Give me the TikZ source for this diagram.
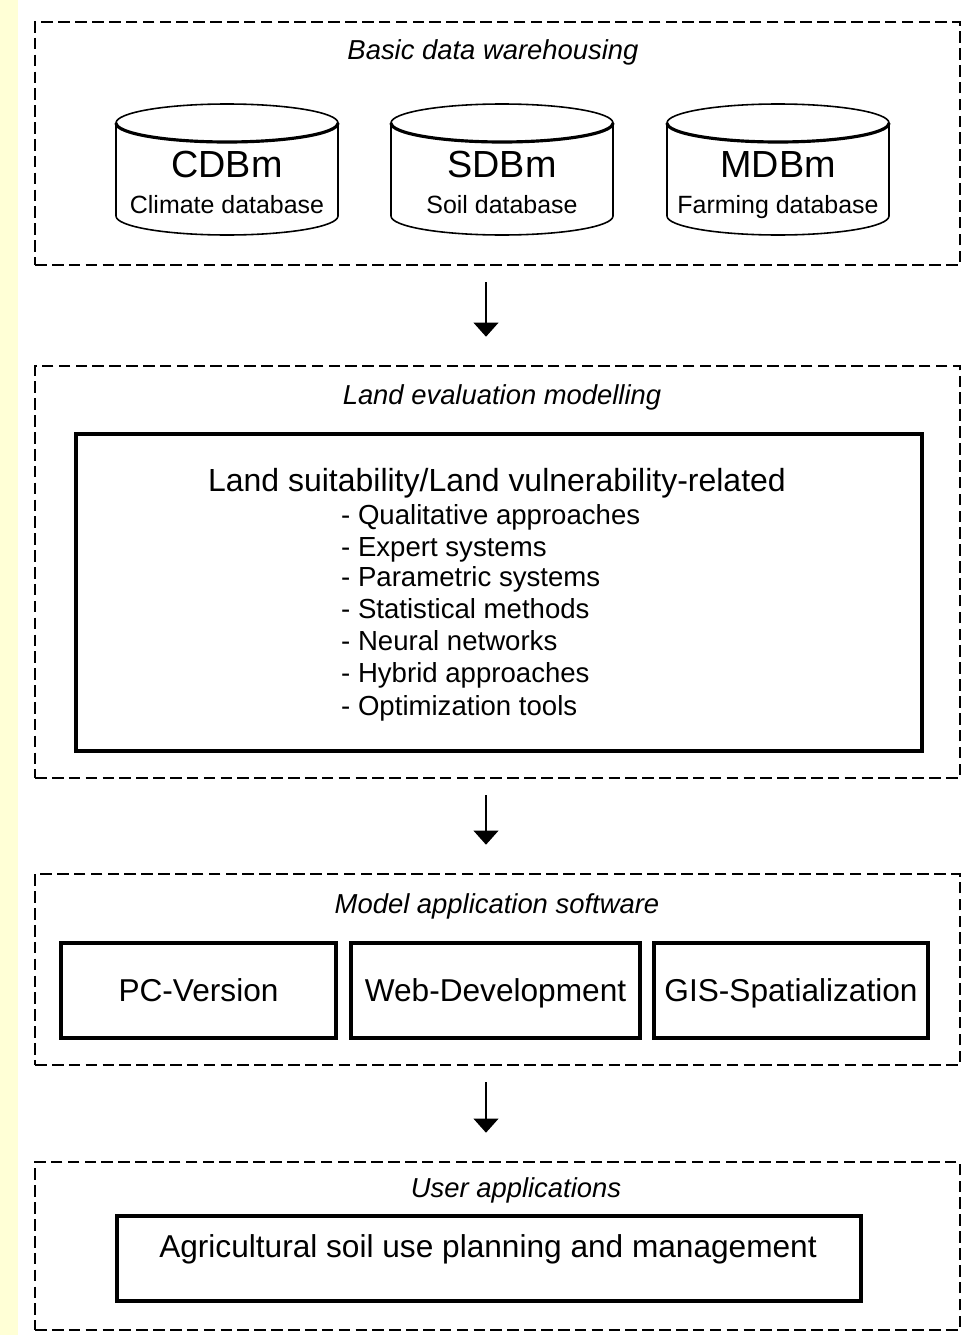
\documentclass[tikz,border=0pt]{standalone}
\usepackage{fontspec}
\setmainfont{Liberation Sans}
\usepackage{tikz}
\usetikzlibrary{arrows.meta,positioning}
\definecolor{stripyellow}{RGB}{255,255,214}

\begin{document}
\begin{tikzpicture}[x=0.02cm,y=-0.02cm,
    group/.style={draw,line width=1.5pt,dash pattern=on 6.6pt off 3pt,inner sep=0,minimum width=18.5cm},
    size/.style={font=\fontsize{#1}{#1}\selectfont,text height=\dimexpr #1pt*72/100\relax,text depth=0pt},
    title/.style={size=15.6,font=\fontsize{15.6}{18}\selectfont\itshape},
    thickbox/.style={draw,line width=2pt,inner sep=0},
    flow/.style={line width=1.2pt,-{Triangle[width=14pt,length=8pt]},shorten <=0.32cm,shorten >=0.56cm}]
        \useasboundingbox (0,0) rectangle (970,1335);
        \fill[stripyellow] (0,0) rectangle (18,1335);

        %the four stages
        \node[group,minimum height=4.86cm] (warehouse) at (497.5,143.5) {};
        \node[group,minimum height=8.24cm] (modelling) at (497.5,572) {};
        \node[group,minimum height=3.82cm] (software) at (497.5,969.5) {};
        \node[group,minimum height=3.36cm] (users) at (497.5,1246) {};
        \node[title] (warehousetitle) at (493,50) {Basic data warehousing};
        \node[title] (modellingtitle) at (502,395) {Land evaluation modelling};
        \node[title] (softwaretitle) at (497,904) {Model application software};
        \node[title] (userstitle) at (516,1188) {User applications};

        %databases
        \foreach \x/\name/\text in {227/CDBm/Climate database, 502/SDBm/Soil database, 778/MDBm/Farming database}{
        \draw[line width=0.9pt] (\x-111,123) -- (\x-111,216) arc(180:0:111 and 19) -- (\x+111,123);
        \draw[line width=0.9pt] (\x,123) ellipse (111 and 19);
        \draw[line width=1.8pt] (\x-111,123) arc(180:0:111 and 19);
        \node[size=21.5] (\name) at (\x,164) {\name};
        \node[size=14.2] (\name-label) at (\x,205) {\text};
        }

        %methods
        \node[thickbox,minimum width=16.92cm,minimum height=6.34cm] (methods) at (499,592.5) {};
        \node[size=18.2] (heading) at (497,480) {Land suitability/Land vulnerability-related};
        \foreach \y/\item [count=\i] in {515/Qualitative approaches, 547/Expert systems, 577/Parametric systems, 609/Statistical methods, 641/Neural networks, 673/Hybrid approaches, 706/Optimization tools}
        \node[size=15.7,anchor=west] (item\i) at (335,\y) {- \item};

        %software
        \foreach \x/\w/\name/\text in {198.5/5.5/pc/PC-Version, 495.5/5.78/web/Web-Development, 791/5.48/gis/GIS-Spatialization}
        \node[thickbox,size=18,minimum width=\w cm,minimum height=1.9cm] (\name) at (\x,990.5) {\text};

        %users
        \node[thickbox,minimum width=14.88cm,minimum height=1.7cm] (userbox) at (489,1258.5) {};
        \node[size=18] (usertext) at (488,1246) {Agricultural soil use planning and management};

        \coordinate (axis) at (486,0);
        \draw[flow] (warehouse.south -| axis) -- (modelling.north -| axis);
        \draw[flow] (modelling.south -| axis) -- (software.north -| axis);
        \draw[flow] (software.south -| axis) -- (users.north -| axis);
\end{tikzpicture}
\end{document}
